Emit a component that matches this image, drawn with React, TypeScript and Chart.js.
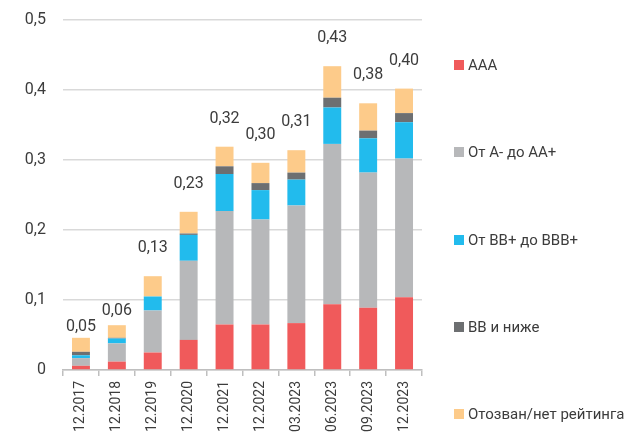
import React, { useEffect, useRef } from "react";
import { Chart, registerables } from "chart.js";

Chart.register(...registerables);

const categories = [
  "12.2017", "12.2018", "12.2019", "12.2020", "12.2021",
  "12.2022", "03.2023", "06.2023", "09.2023", "12.2023",
];

const seriesNames = [
  "AAA",
  "От А- до АА+",
  "От ВВ+ до ВВВ+",
  "ВВ и ниже",
  "Отозван/нет рейтинга",
];

const aaa = [0.006, 0.012, 0.025, 0.043, 0.065, 0.065, 0.067, 0.094, 0.089, 0.104];
const aMinusToAAPlus = [0.011, 0.026, 0.060, 0.113, 0.162, 0.150, 0.168, 0.229, 0.193, 0.198];
const bbPlusToBBBPlus = [0.004, 0.007, 0.020, 0.037, 0.053, 0.042, 0.037, 0.052, 0.049, 0.052];
const bbAndBelow = [0.005, 0.001, 0.0, 0.002, 0.011, 0.010, 0.010, 0.014, 0.011, 0.013];
const withdrawnNoRating = [0.020, 0.018, 0.029, 0.031, 0.028, 0.029, 0.032, 0.045, 0.039, 0.035];

const yTicks = [0, 0.1, 0.2, 0.3, 0.4, 0.5];

const seriesValues = [aaa, aMinusToAAPlus, bbPlusToBBBPlus, bbAndBelow, withdrawnNoRating];
const seriesColors = ["#F05A5B", "#B7B8BA", "#22BBED", "#6D6F71", "#FDCB8A"];

const FONT = "Roboto, 'Noto Sans', sans-serif";
const TEXT = "#3c3c3c";

// style: vertical lift (px) of each total label above its bar
const labelLift = [11, 14, 28, 28, 28, 28, 28, 28, 28, 28];

const fmt = (v: number, d: number) => v.toFixed(d).replace(".", ",");

const totalsPlugin = {
  id: "totals",
  afterDatasetsDraw(chart: any) {
    const { ctx, scales } = chart;
    ctx.save();
    ctx.font = `16px ${FONT}`;
    ctx.fillStyle = TEXT;
    ctx.textAlign = "center";
    ctx.textBaseline = "middle";
    categories.forEach((_, i) => {
      const total = seriesValues.reduce((s, arr) => s + arr[i], 0);
      const x = scales.x.getPixelForValue(i);
      const y = scales.y.getPixelForValue(total);
      ctx.fillText(fmt(total, 2), x, y - labelLift[i]);
    });
    ctx.restore();
  },
};

export default function App() {
  const ref = useRef<HTMLCanvasElement>(null);

  useEffect(() => {
    if (!ref.current) return;
    const chart = new Chart(ref.current, {
      type: "bar",
      data: {
        labels: categories,
        datasets: seriesNames.map((name, k) => ({
          label: name,
          data: seriesValues[k],
          backgroundColor: seriesColors[k],
          borderWidth: 0,
          categoryPercentage: 1,
          barPercentage: 0.5,
        })),
      },
      options: {
        responsive: false,
        animation: false,
        devicePixelRatio: 1,
        layout: { padding: { left: 0, right: 206, top: 20, bottom: 0 } },
        plugins: {
          legend: { display: false },
          tooltip: { enabled: false },
        },
        scales: {
          x: {
            stacked: true,
            afterFit: (s: any) => {
              s.height = 67;
            },
            grid: {
              drawOnChartArea: false,
              drawTicks: true,
              tickLength: 6,
              offset: true,
              color: "#bfbfbf",
              lineWidth: 1.5,
            },
            border: { display: true, color: "#bfbfbf", width: 1.5 },
            ticks: {
              minRotation: 90,
              maxRotation: 90,
              padding: 5,
              color: TEXT,
              font: { family: FONT, size: 14 },
              autoSkip: false,
            },
          },
          y: {
            stacked: true,
            min: 0,
            max: 0.5,
            afterFit: (s: any) => {
              s.width = 63;
            },
            afterBuildTicks: (s: any) => {
              s.ticks = yTicks.map((v) => ({ value: v }));
            },
            grid: {
              drawTicks: true,
              tickLength: 8,
              tickColor: "rgba(0,0,0,0)",
              color: "#d9d9d9",
              lineWidth: 1.5,
            },
            border: { display: false },
            ticks: {
              padding: 9,
              color: TEXT,
              font: { family: FONT, size: 16 },
              callback: (v: any) => (Number(v) === 0 ? "0" : fmt(Number(v), 1)),
            },
          },
        },
      },
      plugins: [totalsPlugin],
    });
    return () => chart.destroy();
  }, []);

  return (
    <div
      style={{
        position: "fixed",
        left: 0,
        top: 0,
        width: 628,
        height: 437,
        overflow: "hidden",
        background: "#ffffff",
      }}
    >
      <canvas ref={ref} width={628} height={437} style={{ display: "block" }} />
      {seriesNames.map((name, k) => (
        <div
          key={name}
          style={{
            position: "absolute",
            left: 454,
            top: 65 + k * 87.25 - 10,
            height: 20,
            display: "flex",
            alignItems: "center",
            whiteSpace: "nowrap",
            fontFamily: FONT,
            fontSize: 15,
            color: TEXT,
          }}
        >
          <span
            style={{
              display: "inline-block",
              width: 10,
              height: 10,
              background: seriesColors[k],
              marginRight: 4,
            }}
          />
          {name}
        </div>
      ))}
    </div>
  );
}
